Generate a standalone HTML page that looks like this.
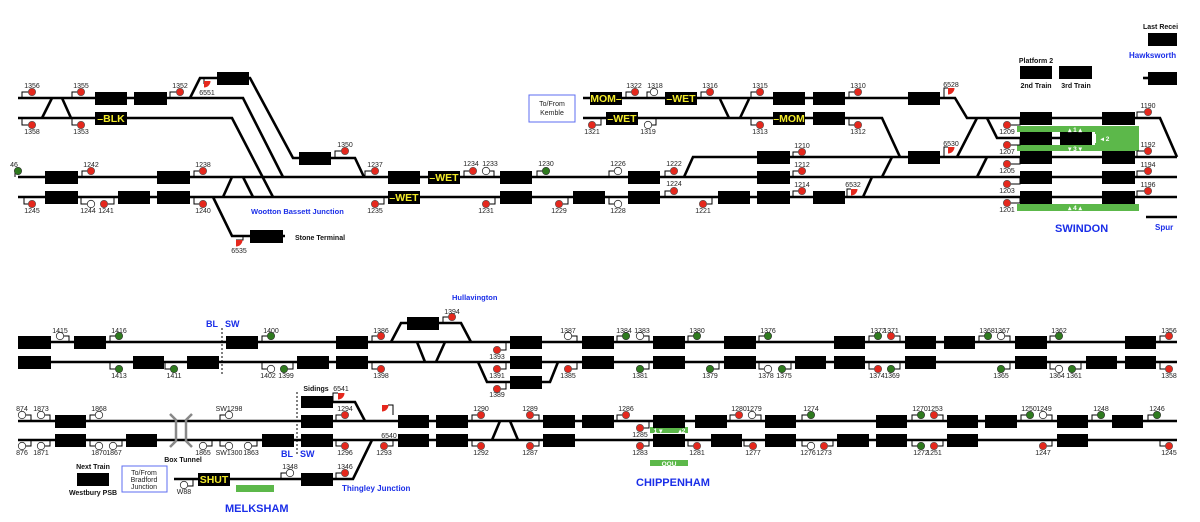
<!DOCTYPE html>
<html><head><meta charset="utf-8"><style>
html,body{margin:0;padding:0;background:#fff;}
svg{display:block}
.t{stroke:#000;stroke-width:2.6;fill:none}
.s{stroke:#000;stroke-width:1;fill:none}
.b{fill:#000}
.r{fill:#e5281d;stroke:#555;stroke-width:.6}
.g{fill:#2e7a1e;stroke:#333;stroke-width:.6}
.w{fill:#fff;stroke:#333;stroke-width:.8}
text{font-family:"Liberation Sans",sans-serif}
.l{font-size:7px;fill:#222;text-anchor:middle}
.y{font-size:10.5px;font-weight:bold;fill:#f2ea2a;text-anchor:middle}
.bl{font-weight:bold;fill:#1a2ee8}
.k{font-size:7px;font-weight:bold;fill:#111;text-anchor:middle}
.st{text-anchor:start}
</style></head><body>
<svg width="1200" height="522" viewBox="0 0 1200 522" xmlns="http://www.w3.org/2000/svg">
<!-- TOP TRACKS -->
<g class="t">
<path d="M18 98H243L283 177"/><path d="M18 118H232L273 197"/>
<path d="M190 98L200 78H250L293 158H355L364 177"/>
<path d="M18 177H1177"/><path d="M18 197H1177"/>
<path d="M42 118L52 98M62 98L71 118M223 197L232 177M243 177L253 197"/>
<path d="M213 197L232 236H285"/>
<path d="M583 98H955L967 118H1160L1177 157"/>
<path d="M583 118H882L900 157"/>
<path d="M720 99L729 118M749 99L740 118"/>
<path d="M684 177L693 157H1177"/>
<path d="M892 157L882 177M987 157L977 177M872 177L863 197M957 157L977 118"/>
<path d="M987 118L997 138H1095"/>
<path d="M1146 217H1177"/>
<path d="M1143 78H1150"/>
</g>
<!-- BOTTOM TRACKS -->
<g class="t">
<path d="M18 342H1177"/><path d="M18 362H1177"/><path d="M18 421H1177"/><path d="M18 440H1177"/>
<path d="M391 342L401 323H461L471 342"/>
<path d="M417 342L425 362M445 342L436 362"/>
<path d="M478 362L487 382H550L558 362"/>
<path d="M301 402H355L365 421"/>
<path d="M174 479H353L372 440"/>
<path d="M492 440L500 421M510 421L518 440"/>
</g>
<path d="M170 414L176 420V441L170 447M192 414L186 420V441L192 447" stroke="#888" stroke-width="2.5" fill="none"/>
<path d="M222 328V375M297 392V456" stroke="#000" stroke-width="1" stroke-dasharray="2,2"/>

<!-- BLOCKS TOP -->
<g class="b">
<rect x="95" y="92" width="32" height="13"/><rect x="134" y="92" width="33" height="13"/>
<rect x="590" y="92" width="32" height="13"/><rect x="665" y="92" width="32" height="13"/><rect x="773" y="92" width="32" height="13"/><rect x="813" y="92" width="32" height="13"/><rect x="908" y="92" width="32" height="13"/>
<rect x="95" y="112" width="32" height="13"/><rect x="606" y="112" width="32" height="13"/><rect x="773" y="112" width="32" height="13"/><rect x="813" y="112" width="32" height="13"/>
<rect x="217" y="72" width="32" height="13"/><rect x="299" y="152" width="32" height="13"/>
<rect x="757" y="151" width="33" height="13"/><rect x="908" y="151" width="32" height="13"/>
<rect x="45" y="171" width="33" height="13"/><rect x="157" y="171" width="33" height="13"/><rect x="388" y="171" width="32" height="13"/><rect x="428" y="171" width="32" height="13"/><rect x="500" y="171" width="32" height="13"/><rect x="628" y="171" width="32" height="13"/><rect x="757" y="171" width="33" height="13"/>
<rect x="45" y="191" width="33" height="13"/><rect x="118" y="191" width="32" height="13"/><rect x="157" y="191" width="33" height="13"/><rect x="388" y="191" width="32" height="13"/><rect x="500" y="191" width="32" height="13"/><rect x="573" y="191" width="32" height="13"/><rect x="628" y="191" width="32" height="13"/><rect x="718" y="191" width="32" height="13"/><rect x="757" y="191" width="33" height="13"/><rect x="813" y="191" width="32" height="13"/>
<rect x="250" y="230" width="33" height="13"/>
<rect x="1020" y="112" width="32" height="13"/><rect x="1020" y="132" width="32" height="13"/><rect x="1020" y="151" width="32" height="13"/><rect x="1020" y="171" width="32" height="13"/><rect x="1020" y="191" width="32" height="13"/>
<rect x="1102" y="112" width="33" height="13"/><rect x="1102" y="151" width="33" height="13"/><rect x="1102" y="171" width="33" height="13"/><rect x="1102" y="191" width="33" height="13"/>
<rect x="1060" y="132" width="32" height="13"/>
<rect x="1020" y="66" width="32" height="13"/><rect x="1059" y="66" width="33" height="13"/>
<rect x="1148" y="33" width="29" height="13"/><rect x="1148" y="72" width="29" height="13"/>
</g>
<!-- green platforms -->
<g fill="#5cb84a">
<rect x="1017" y="126" width="122" height="6"/>
<rect x="1095" y="126" width="44" height="25"/>
<rect x="1017" y="145" width="122" height="6"/>
<rect x="1017" y="204" width="122" height="7"/>
<rect x="236" y="485" width="38" height="7"/>
<rect x="650" y="427" width="38" height="6"/>
<rect x="650" y="460" width="38" height="6"/>
</g>
<rect x="1092" y="134" width="4" height="9" fill="#fff"/>
<g font-size="6.5" font-weight="bold" fill="#fff" text-anchor="middle" font-family="Liberation Sans,sans-serif">
<text x="1075" y="132">▴ 1 ▴</text><text x="1105" y="141">◂ 2</text><text x="1075" y="151">▾ 3 ▾</text><text x="1075" y="210">▴ 4 ▴</text>
<text x="658" y="433">1 ▾</text><text x="682" y="433">▴2</text><text x="669" y="466">OOU</text>
</g>

<!-- BLOCKS BOTTOM -->
<g class="b">
<rect x="18" y="336" width="33" height="13"/><rect x="74" y="336" width="32" height="13"/><rect x="226" y="336" width="32" height="13"/><rect x="336" y="336" width="32" height="13"/><rect x="510" y="336" width="32" height="13"/><rect x="582" y="336" width="32" height="13"/><rect x="653" y="336" width="32" height="13"/><rect x="724" y="336" width="32" height="13"/><rect x="834" y="336" width="31" height="13"/><rect x="905" y="336" width="31" height="13"/><rect x="944" y="336" width="31" height="13"/><rect x="1015" y="336" width="32" height="13"/><rect x="1125" y="336" width="31" height="13"/>
<rect x="18" y="356" width="33" height="13"/><rect x="133" y="356" width="31" height="13"/><rect x="187" y="356" width="32" height="13"/><rect x="297" y="356" width="32" height="13"/><rect x="336" y="356" width="32" height="13"/><rect x="510" y="356" width="32" height="13"/><rect x="582" y="356" width="32" height="13"/><rect x="653" y="356" width="32" height="13"/><rect x="724" y="356" width="32" height="13"/><rect x="795" y="356" width="31" height="13"/><rect x="834" y="356" width="31" height="13"/><rect x="905" y="356" width="31" height="13"/><rect x="1015" y="356" width="32" height="13"/><rect x="1086" y="356" width="31" height="13"/><rect x="1125" y="356" width="31" height="13"/>
<rect x="407" y="317" width="32" height="13"/><rect x="510" y="376" width="32" height="13"/><rect x="301" y="396" width="32" height="12"/>
<rect x="55" y="415" width="31" height="13"/><rect x="301" y="415" width="32" height="13"/><rect x="398" y="415" width="31" height="13"/><rect x="436" y="415" width="32" height="13"/><rect x="543" y="415" width="32" height="13"/><rect x="582" y="415" width="32" height="13"/><rect x="653" y="415" width="32" height="13"/><rect x="695" y="415" width="32" height="13"/><rect x="765" y="415" width="31" height="13"/><rect x="876" y="415" width="31" height="13"/><rect x="947" y="415" width="31" height="13"/><rect x="985" y="415" width="32" height="13"/><rect x="1057" y="415" width="31" height="13"/><rect x="1112" y="415" width="31" height="13"/>
<rect x="55" y="434" width="31" height="13"/><rect x="126" y="434" width="31" height="13"/><rect x="262" y="434" width="32" height="13"/><rect x="301" y="434" width="32" height="13"/><rect x="398" y="434" width="31" height="13"/><rect x="436" y="434" width="32" height="13"/><rect x="543" y="434" width="32" height="13"/><rect x="653" y="434" width="32" height="13"/><rect x="711" y="434" width="31" height="13"/><rect x="765" y="434" width="31" height="13"/><rect x="837" y="434" width="32" height="13"/><rect x="876" y="434" width="31" height="13"/><rect x="947" y="434" width="31" height="13"/><rect x="1057" y="434" width="31" height="13"/>
<rect x="77" y="473" width="32" height="13"/><rect x="198" y="473" width="32" height="13"/><rect x="301" y="473" width="32" height="13"/>
</g>

<!-- yellow block labels -->
<text class="y" x="111" y="122">–BLK</text>
<text class="y" x="606" y="102">MOM–</text>
<text class="y" x="681" y="102">–WET</text>
<text class="y" x="622" y="122">–WET</text>
<text class="y" x="789" y="122">–MOM</text>
<text class="y" x="444" y="181">–WET</text>
<text class="y" x="404" y="201">–WET</text>
<text class="y" x="214" y="483">SHUT</text>

<!-- SIGNAL STEMS -->
<path class="s" d="M22 98V92H32M72 98V92H81M170 98V92H180M22 118V125H32M72 118V125H81M335 158V151H345M15 177V171H18M82 177V171H91M194 177V171H203M365 177V171H375M24 197V204H32M81 197V204H91M114 197V204H104M194 197V204H203M384 197V204H375M464 177V171H473M494 177V171H486M537 177V171H546M609 177V171H618M665 177V171H674M495 197V204H486M568 197V204H559M609 197V204H618M712 197V204H703M665 197V191H674M626 98V92H635M647 98V92H654M701 98V92H710M751 98V92H760M601 118V125H592M656 118V125H648M751 118V125H760M849 98V92H858M849 118V125H858M793 157V152H802M793 177V171H802M793 197V191H802M1020 118V125H1007M1020 138V145H1007M1020 157V164H1007M1020 177V184H1007M1020 197V203H1007M1137 118V112H1148M1137 157V151H1148M1137 177V171H1148M1137 197V191H1148M216 78H204V84M944 98V88H948M944 157V147H948M847 197V189H851M243 236V240H236"/>
<path class="s" d="M69 342V336H60M110 342V336H119M262 342V336H271M372 342V336H381M443 323V317H452M506 342V350H497M577 342V336H568M617 342V336H626M649 342V336H640M688 342V336H697M759 342V336H768M869 342V336H878M900 342V336H891M979 342V336H988M1010 342V336H1001M1050 342V336H1059M1160 342V336H1169M110 362V369H119M165 362V369H174M262 362V369H271M293 362V369H284M372 362V369H381M506 362V369H497M506 382V389H497M577 362V369H568M649 362V369H640M719 362V369H710M759 362V369H768M791 362V369H782M869 362V369H878M900 362V369H891M1010 362V369H1001M1050 362V369H1059M1081 362V369H1072M1160 362V369H1169M31 421V415H22M50 421V415H41M90 421V415H99M220 421V415H229M336 421V415H345M472 421V415H481M539 421V415H530M617 421V415H626M649 421V428H640M730 421V415H739M761 421V415H752M802 421V415H811M912 421V415H921M943 421V415H934M1021 421V415H1030M1052 421V415H1043M1092 421V415H1101M1148 421V415H1157M31 440V446H22M50 440V446H41M90 440V446H99M122 440V446H113M212 440V446H203M220 440V446H229M257 440V446H248M336 440V446H345M393 440V446H384M472 440V446H481M539 440V446H530M649 440V446H640M688 440V446H697M744 440V446H753M802 440V446H811M833 440V446H824M912 440V446H921M943 440V446H934M1052 440V446H1043M1160 440V446H1169M281 479V473H290M336 479V473H345M193 479V486H184M333 402V393H338M393 415V405H388"/>

<!-- SIGNALS TOP -->
<g>
<circle class="r" cx="32" cy="92" r="3.7"/><circle class="r" cx="81" cy="92" r="3.7"/><circle class="r" cx="180" cy="92" r="3.7"/><circle class="r" cx="32" cy="125" r="3.7"/><circle class="r" cx="81" cy="125" r="3.7"/>
<circle class="r" cx="345" cy="151" r="3.7"/><circle class="g" cx="18" cy="171" r="3.7"/><circle class="r" cx="91" cy="171" r="3.7"/><circle class="r" cx="203" cy="171" r="3.7"/><circle class="r" cx="375" cy="171" r="3.7"/>
<circle class="r" cx="32" cy="204" r="3.7"/><circle class="w" cx="91" cy="204" r="3.7"/><circle class="r" cx="104" cy="204" r="3.7"/><circle class="r" cx="203" cy="204" r="3.7"/><circle class="r" cx="375" cy="204" r="3.7"/>
<circle class="r" cx="473" cy="171" r="3.7"/><circle class="w" cx="486" cy="171" r="3.7"/><circle class="g" cx="546" cy="171" r="3.7"/><circle class="w" cx="618" cy="171" r="3.7"/><circle class="r" cx="674" cy="171" r="3.7"/>
<circle class="r" cx="486" cy="204" r="3.7"/><circle class="r" cx="559" cy="204" r="3.7"/><circle class="w" cx="618" cy="204" r="3.7"/><circle class="r" cx="703" cy="204" r="3.7"/><circle class="r" cx="674" cy="191" r="3.7"/>
<circle class="r" cx="635" cy="92" r="3.7"/><circle class="w" cx="654" cy="92" r="3.7"/><circle class="r" cx="710" cy="92" r="3.7"/><circle class="r" cx="760" cy="92" r="3.7"/>
<circle class="r" cx="592" cy="125" r="3.7"/><circle class="w" cx="648" cy="125" r="3.7"/><circle class="r" cx="760" cy="125" r="3.7"/>
<circle class="r" cx="858" cy="92" r="3.7"/><circle class="r" cx="858" cy="125" r="3.7"/>
<circle class="r" cx="802" cy="152" r="3.7"/><circle class="r" cx="802" cy="171" r="3.7"/><circle class="r" cx="802" cy="191" r="3.7"/>
<circle class="r" cx="1007" cy="125" r="3.7"/><circle class="r" cx="1007" cy="145" r="3.7"/><circle class="r" cx="1007" cy="164" r="3.7"/><circle class="r" cx="1007" cy="184" r="3.7"/><circle class="r" cx="1007" cy="203" r="3.7"/>
<circle class="r" cx="1148" cy="112" r="3.7"/><circle class="r" cx="1148" cy="151" r="3.7"/><circle class="r" cx="1148" cy="171" r="3.7"/><circle class="r" cx="1148" cy="191" r="3.7"/>
</g>
<!-- quarter signals -->
<g fill="#e5281d">
<path d="M204 81h6.5a6.5 6.5 0 0 1 -6.5 6.5z"/>
<path d="M948 88h6.5a6.5 6.5 0 0 1 -6.5 6.5z"/>
<path d="M948 147h6.5a6.5 6.5 0 0 1 -6.5 6.5z"/>
<path d="M851 189h6.5a6.5 6.5 0 0 1 -6.5 6.5z"/>
<path d="M236 240h6.5a6.5 6.5 0 0 1 -6.5 6.5z"/>
<path d="M338 393h6.5a6.5 6.5 0 0 1 -6.5 6.5z"/>
<path d="M382 405h6.5a6.5 6.5 0 0 1 -6.5 6.5z"/>
</g>

<!-- SIGNALS BOTTOM -->
<g>
<circle class="w" cx="60" cy="336" r="3.7"/><circle class="g" cx="119" cy="336" r="3.7"/><circle class="g" cx="271" cy="336" r="3.7"/><circle class="r" cx="381" cy="336" r="3.7"/><circle class="r" cx="452" cy="317" r="3.7"/>
<circle class="r" cx="497" cy="350" r="3.7"/><circle class="w" cx="568" cy="336" r="3.7"/><circle class="g" cx="626" cy="336" r="3.7"/><circle class="w" cx="640" cy="336" r="3.7"/><circle class="g" cx="697" cy="336" r="3.7"/><circle class="g" cx="768" cy="336" r="3.7"/>
<circle class="g" cx="878" cy="336" r="3.7"/><circle class="r" cx="891" cy="336" r="3.7"/><circle class="g" cx="988" cy="336" r="3.7"/><circle class="w" cx="1001" cy="336" r="3.7"/><circle class="g" cx="1059" cy="336" r="3.7"/><circle class="r" cx="1169" cy="336" r="3.7"/>
<circle class="g" cx="119" cy="369" r="3.7"/><circle class="g" cx="174" cy="369" r="3.7"/><circle class="w" cx="271" cy="369" r="3.7"/><circle class="g" cx="284" cy="369" r="3.7"/><circle class="r" cx="381" cy="369" r="3.7"/><circle class="r" cx="497" cy="369" r="3.7"/><circle class="r" cx="497" cy="389" r="3.7"/><circle class="r" cx="568" cy="369" r="3.7"/><circle class="g" cx="640" cy="369" r="3.7"/><circle class="g" cx="710" cy="369" r="3.7"/><circle class="w" cx="768" cy="369" r="3.7"/><circle class="g" cx="782" cy="369" r="3.7"/><circle class="r" cx="878" cy="369" r="3.7"/><circle class="g" cx="891" cy="369" r="3.7"/><circle class="g" cx="1001" cy="369" r="3.7"/><circle class="w" cx="1059" cy="369" r="3.7"/><circle class="g" cx="1072" cy="369" r="3.7"/><circle class="r" cx="1169" cy="369" r="3.7"/>
<circle class="w" cx="22" cy="415" r="3.7"/><circle class="w" cx="41" cy="415" r="3.7"/><circle class="w" cx="99" cy="415" r="3.7"/><circle class="w" cx="229" cy="415" r="3.7"/><circle class="r" cx="345" cy="415" r="3.7"/><circle class="r" cx="481" cy="415" r="3.7"/><circle class="r" cx="530" cy="415" r="3.7"/><circle class="r" cx="626" cy="415" r="3.7"/><circle class="r" cx="640" cy="428" r="3.7"/><circle class="r" cx="739" cy="415" r="3.7"/><circle class="w" cx="752" cy="415" r="3.7"/><circle class="g" cx="811" cy="415" r="3.7"/><circle class="g" cx="921" cy="415" r="3.7"/><circle class="r" cx="934" cy="415" r="3.7"/><circle class="g" cx="1030" cy="415" r="3.7"/><circle class="w" cx="1043" cy="415" r="3.7"/><circle class="g" cx="1101" cy="415" r="3.7"/><circle class="g" cx="1157" cy="415" r="3.7"/>
<circle class="w" cx="22" cy="446" r="3.7"/><circle class="w" cx="41" cy="446" r="3.7"/><circle class="w" cx="99" cy="446" r="3.7"/><circle class="w" cx="113" cy="446" r="3.7"/><circle class="w" cx="203" cy="446" r="3.7"/><circle class="w" cx="229" cy="446" r="3.7"/><circle class="w" cx="248" cy="446" r="3.7"/><circle class="r" cx="345" cy="446" r="3.7"/><circle class="r" cx="384" cy="446" r="3.7"/><circle class="r" cx="481" cy="446" r="3.7"/><circle class="r" cx="530" cy="446" r="3.7"/><circle class="r" cx="640" cy="446" r="3.7"/><circle class="r" cx="697" cy="446" r="3.7"/><circle class="r" cx="753" cy="446" r="3.7"/><circle class="w" cx="811" cy="446" r="3.7"/><circle class="r" cx="824" cy="446" r="3.7"/><circle class="g" cx="921" cy="446" r="3.7"/><circle class="r" cx="934" cy="446" r="3.7"/><circle class="r" cx="1043" cy="446" r="3.7"/><circle class="r" cx="1169" cy="446" r="3.7"/>
<circle class="w" cx="290" cy="473" r="3.7"/><circle class="r" cx="345" cy="473" r="3.7"/><circle class="w" cx="184" cy="485" r="3.7"/>
</g>

<!-- LABELS TOP -->
<g class="l">
<text x="32" y="88">1356</text><text x="81" y="88">1355</text><text x="180" y="88">1352</text><text x="32" y="134">1358</text><text x="81" y="134">1353</text><text x="207" y="95">6551</text>
<text x="345" y="147">1350</text><text x="14" y="167">46</text><text x="91" y="167">1242</text><text x="203" y="167">1238</text><text x="375" y="167">1237</text>
<text x="32" y="213">1245</text><text x="88" y="213">1244</text><text x="106" y="213">1241</text><text x="203" y="213">1240</text><text x="375" y="213">1235</text><text x="239" y="253">6535</text>
<text x="471" y="166">1234</text><text x="490" y="166">1233</text><text x="546" y="166">1230</text><text x="618" y="166">1226</text><text x="674" y="166">1222</text>
<text x="486" y="213">1231</text><text x="559" y="213">1229</text><text x="618" y="213">1228</text><text x="703" y="213">1221</text><text x="674" y="186">1224</text>
<text x="634" y="88">1322</text><text x="655" y="88">1318</text><text x="710" y="88">1316</text><text x="760" y="88">1315</text>
<text x="592" y="134">1321</text><text x="648" y="134">1319</text><text x="760" y="134">1313</text>
<text x="858" y="88">1310</text><text x="858" y="134">1312</text><text x="951" y="87">6528</text><text x="951" y="146">6530</text><text x="853" y="187">6532</text>
<text x="802" y="148">1210</text><text x="802" y="167">1212</text><text x="802" y="187">1214</text>
<text x="1007" y="134">1209</text><text x="1007" y="154">1207</text><text x="1007" y="173">1205</text><text x="1007" y="193">1203</text><text x="1007" y="212">1201</text>
<text x="1148" y="108">1190</text><text x="1148" y="147">1192</text><text x="1148" y="167">1194</text><text x="1148" y="187">1196</text>
</g>
<!-- LABELS BOTTOM -->
<g class="l">
<text x="60" y="333">1415</text><text x="119" y="333">1416</text><text x="271" y="333">1400</text><text x="381" y="333">1386</text><text x="452" y="314">1394</text>
<text x="497" y="359">1393</text><text x="568" y="333">1387</text><text x="624" y="333">1384</text><text x="642" y="333">1383</text><text x="697" y="333">1380</text><text x="768" y="333">1376</text>
<text x="878" y="333">1372</text><text x="891" y="333">1371</text><text x="987" y="333">1368</text><text x="1002" y="333">1367</text><text x="1059" y="333">1362</text><text x="1169" y="333">1356</text>
<text x="119" y="378">1413</text><text x="174" y="378">1411</text><text x="268" y="378">1402</text><text x="286" y="378">1399</text><text x="381" y="378">1398</text><text x="497" y="378">1391</text><text x="497" y="397">1389</text><text x="568" y="378">1385</text><text x="640" y="378">1381</text><text x="710" y="378">1379</text><text x="766" y="378">1378</text><text x="784" y="378">1375</text><text x="877" y="378">1374</text><text x="892" y="378">1369</text><text x="1001" y="378">1365</text><text x="1057" y="378">1364</text><text x="1074" y="378">1361</text><text x="1169" y="378">1358</text>
<text x="22" y="411">874</text><text x="41" y="411">1873</text><text x="99" y="411">1868</text><text x="229" y="411">SW1298</text><text x="345" y="411">1294</text><text x="481" y="411">1290</text><text x="530" y="411">1289</text><text x="626" y="411">1286</text><text x="640" y="437">1285</text><text x="739" y="411">1280</text><text x="754" y="411">1279</text><text x="811" y="411">1274</text><text x="920" y="411">1270</text><text x="935" y="411">1253</text><text x="1029" y="411">1250</text><text x="1044" y="411">1249</text><text x="1101" y="411">1248</text><text x="1157" y="411">1246</text>
<text x="22" y="455">876</text><text x="41" y="455">1871</text><text x="99" y="455">1870</text><text x="114" y="455">1867</text><text x="203" y="455">1865</text><text x="229" y="455">SW1300</text><text x="251" y="455">1863</text><text x="345" y="455">1296</text><text x="384" y="455">1293</text><text x="481" y="455">1292</text><text x="530" y="455">1287</text><text x="640" y="455">1283</text><text x="697" y="455">1281</text><text x="753" y="455">1277</text><text x="808" y="455">1276</text><text x="824" y="455">1273</text><text x="921" y="455">1272</text><text x="934" y="455">1251</text><text x="1043" y="455">1247</text><text x="1169" y="455">1245</text>
<text x="290" y="469">1348</text><text x="345" y="469">1346</text><text x="184" y="494">W88</text><text x="341" y="391">6541</text><text x="389" y="438">6540</text>
</g>

<!-- boxes & captions -->
<rect x="529" y="95" width="46" height="27" fill="none" stroke="#5d6cf0" stroke-width="1"/>
<text class="l" x="552" y="106" font-size="6.5">To/From</text><text class="l" x="552" y="115" font-size="6.5">Kemble</text>
<rect x="122" y="466" width="45" height="26" fill="none" stroke="#5d6cf0" stroke-width="1"/>
<text class="l" x="144" y="475" font-size="6.5">To/From</text><text class="l" x="144" y="482" font-size="6.5">Bradford</text><text class="l" x="144" y="489" font-size="6.5">Junction</text>

<text class="k" x="1036" y="63">Platform 2</text><text class="k" x="1036" y="88">2nd Train</text><text class="k" x="1076" y="88">3rd Train</text>
<text class="k st" x="1143" y="29">Last Recei</text>
<text class="k st" x="295" y="240">Stone Terminal</text>
<text class="k" x="316" y="391">Sidings</text>
<text class="k" x="183" y="462">Box Tunnel</text>
<text class="k" x="93" y="469">Next Train</text><text class="k" x="93" y="495">Westbury PSB</text>

<text class="bl" x="251" y="214" font-size="7.5">Wootton Bassett Junction</text>
<text class="bl" x="1129" y="58" font-size="8">Hawksworth</text>
<text class="bl" x="1055" y="232" font-size="11">SWINDON</text>
<text class="bl" x="1155" y="230" font-size="8">Spur</text>
<text class="bl" x="452" y="300" font-size="7.5">Hullavington</text>
<text class="bl" x="206" y="327" font-size="9">BL</text><text class="bl" x="225" y="327" font-size="9">SW</text>
<text class="bl" x="281" y="457" font-size="9">BL</text><text class="bl" x="300" y="457" font-size="9">SW</text>
<text class="bl" x="342" y="491" font-size="8">Thingley Junction</text>
<text class="bl" x="225" y="512" font-size="11">MELKSHAM</text>
<text class="bl" x="636" y="486" font-size="11">CHIPPENHAM</text>
</svg>
</body></html>
